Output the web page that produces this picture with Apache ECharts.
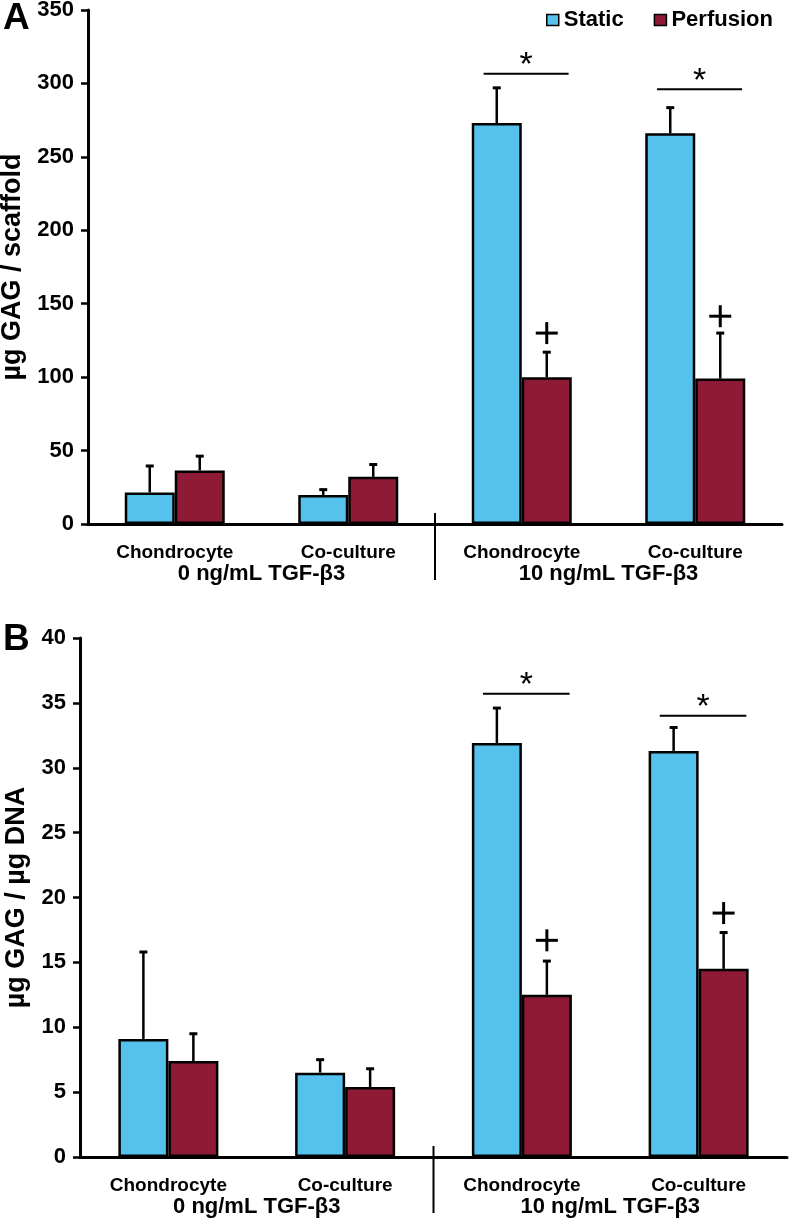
<!DOCTYPE html>
<html>
<head>
<meta charset="utf-8">
<script src="https://cdn.jsdelivr.net/npm/echarts@6/dist/echarts.min.js"></script>
<style>
  html, body { margin: 0; padding: 0; background: #fff; }
  #main { width: 792px; height: 1220px; }
</style>
</head>
<body>
<div id="main"></div>
<script>
// categories and groups
const categories = ['Chondrocyte', 'Co-culture', 'Chondrocyte', 'Co-culture'];
const groups = ['0 ng/mL TGF-β3', '10 ng/mL TGF-β3'];

// panel A: µg GAG / scaffold
const staticA = [21.5, 19.8, 273, 266];
const staticSdA = [18, 3.6, 24, 17.5];
const perfusionA = [36.5, 32.1, 100, 99];
const perfusionSdA = [9.7, 8.4, 17, 31];
const sigLineA = [[2, 306.6], [3, 296]];
const plusA = [[2, 130], [3, 141.5]];

// panel B: µg GAG / µg DNA
const staticB = [9.1, 6.5, 31.9, 31.3];
const staticSdB = [6.7, 1.0, 2.7, 1.8];
const perfusionB = [7.4, 5.4, 12.5, 14.5];
const perfusionSdB = [2.1, 1.4, 2.6, 2.8];
const sigLineB = [[2, 35.7], [3, 34.0]];
const plusB = [[2, 16.7], [3, 18.8]];

const FONT = '"Liberation Sans", Arial, Helvetica, sans-serif';
const BLUE = '#55c2ee';
const RED = '#8e1a36';
const BAR_W = 50;

function errRender(offset) {
  return function (params, api) {
    const base = api.coord([api.value(0), api.value(1)]);
    const top = api.coord([api.value(0), api.value(1) + api.value(2)]);
    const x = base[0] + offset;
    return {
      type: 'group',
      children: [
        { type: 'line', shape: { x1: x, y1: base[1], x2: x, y2: top[1] }, style: { stroke: '#000', lineWidth: 2.5 } },
        { type: 'line', shape: { x1: x - 4, y1: top[1], x2: x + 4, y2: top[1] }, style: { stroke: '#000', lineWidth: 3 } }
      ]
    };
  };
}

function sigRender(params, api) {
  const p = api.coord([api.value(0), api.value(1)]);
  const bw = api.size([1, 0])[0];
  const cx = p[0] + bw * 0.025;
  const half = bw * 0.245;
  return {
    type: 'group',
    children: [
      { type: 'line', shape: { x1: cx - half, y1: p[1], x2: cx + half, y2: p[1] }, style: { stroke: '#000', lineWidth: 2 } },
      { type: 'text', style: { text: '*', x: cx, y: p[1] - 8, align: 'center', verticalAlign: 'middle', font: '34px ' + FONT, fill: '#000' } }
    ]
  };
}

function plusRender(params, api) {
  const p = api.coord([api.value(0), api.value(1)]);
  const x = p[0] + BAR_W / 2;
  return {
    type: 'group',
    children: [
      { type: 'line', shape: { x1: x - 11, y1: p[1], x2: x + 11, y2: p[1] }, style: { stroke: '#000', lineWidth: 3 } },
      { type: 'line', shape: { x1: x, y1: p[1] - 11, x2: x, y2: p[1] + 11 }, style: { stroke: '#000', lineWidth: 3 } }
    ]
  };
}

function sepRender(params, api) {
  const p = api.coord([api.value(0), 0]);
  const bw = api.size([1, 0])[0];
  const x = p[0] + bw / 2;
  return { type: 'line', shape: { x1: x, y1: p[1] - 11, x2: x, y2: p[1] + 56 }, style: { stroke: '#000', lineWidth: 2 } };
}

function xAxes(gridIndex) {
  return [{
    type: 'category', gridIndex: gridIndex, data: categories,
    axisLine: { lineStyle: { color: '#000', width: 3 } },
    axisTick: { length: 7, lineStyle: { color: '#000', width: 2.5 } },
    axisLabel: { color: '#000', fontFamily: FONT, fontWeight: 'bold', fontSize: 19, margin: 19 }
  }, {
    type: 'category', gridIndex: gridIndex, data: groups, position: 'bottom',
    axisLine: { show: false }, axisTick: { show: false },
    axisLabel: { color: '#000', fontFamily: FONT, fontWeight: 'bold', fontSize: 22, margin: 39 }
  }];
}

function yAxis(gridIndex, max, interval, name, gap) {
  return {
    type: 'value', gridIndex: gridIndex, min: 0, max: max, interval: interval,
    name: name, nameLocation: 'middle', nameGap: gap, nameRotate: 90,
    nameTextStyle: { color: '#000', fontFamily: FONT, fontWeight: 'bold', fontSize: 27 },
    axisLine: { show: true, lineStyle: { color: '#000', width: 3 } },
    axisTick: { show: true, length: 7, lineStyle: { color: '#000', width: 2.5 } },
    axisLabel: { color: '#000', fontFamily: FONT, fontWeight: 'bold', fontSize: 22, margin: 14 },
    splitLine: { show: false }
  };
}

function panelSeries(i, st, stSd, pf, pfSd, sig, plus) {
  const xi = i * 2;
  const barStyle = (c) => ({ color: c, borderColor: '#000', borderWidth: 2.5 });
  return [
    { name: 'Static', type: 'bar', xAxisIndex: xi, yAxisIndex: i, data: st, barWidth: BAR_W, barGap: '0%', itemStyle: barStyle(BLUE) },
    { name: 'Perfusion', type: 'bar', xAxisIndex: xi, yAxisIndex: i, data: pf, barWidth: BAR_W, barGap: '0%', itemStyle: barStyle(RED) },
    { type: 'custom', xAxisIndex: xi, yAxisIndex: i, z: 3, renderItem: errRender(-BAR_W / 2), data: st.map((v, k) => [k, v, stSd[k]]) },
    { type: 'custom', xAxisIndex: xi, yAxisIndex: i, z: 3, renderItem: errRender(BAR_W / 2), data: pf.map((v, k) => [k, v, pfSd[k]]) },
    { type: 'custom', xAxisIndex: xi, yAxisIndex: i, z: 3, renderItem: sigRender, data: sig },
    { type: 'custom', xAxisIndex: xi, yAxisIndex: i, z: 3, renderItem: plusRender, data: plus },
    { type: 'custom', xAxisIndex: xi, yAxisIndex: i, z: 3, renderItem: sepRender, data: [[1, 0]] }
  ];
}

const chart = echarts.init(document.getElementById('main'), null, { renderer: 'canvas' });
chart.setOption({
  animation: false,
  backgroundColor: '#fff',
  textStyle: { fontFamily: FONT },
  grid: [
    { left: 88, top: 10, width: 694, height: 514, outerBoundsMode: 'none', containLabel: false },
    { left: 80, top: 638, width: 707, height: 519, outerBoundsMode: 'none', containLabel: false }
  ],
  legend: {
    data: ['Static', 'Perfusion'], left: 541, top: 4,
    icon: 'rect', itemWidth: 12, itemHeight: 11, itemGap: 30,
    itemStyle: { borderWidth: 1.5 },
    textStyle: { color: '#000', fontFamily: FONT, fontWeight: 'bold', fontSize: 22 }
  },
  xAxis: xAxes(0).concat(xAxes(1)),
  yAxis: [yAxis(0, 350, 50, 'µg GAG / scaffold', 62), yAxis(1, 40, 5, 'µg GAG / µg DNA', 50)],
  series: panelSeries(0, staticA, staticSdA, perfusionA, perfusionSdA, sigLineA, plusA)
    .concat(panelSeries(1, staticB, staticSdB, perfusionB, perfusionSdB, sigLineB, plusB)),
  graphic: [
    { type: 'text', left: 3, top: 0, style: { text: 'A', font: 'bold 37px ' + FONT, fill: '#000' } },
    { type: 'text', left: 3, top: 621, style: { text: 'B', font: 'bold 37px ' + FONT, fill: '#000' } }
  ]
});
</script>
</body>
</html>
